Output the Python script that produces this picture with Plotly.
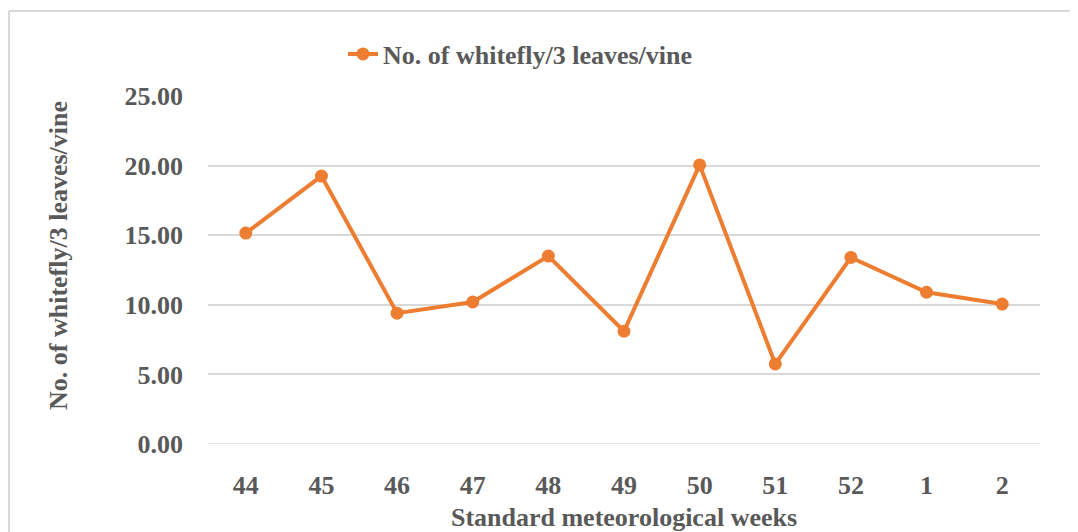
import plotly.graph_objects as go

weeks = ["44", "45", "46", "47", "48", "49", "50", "51", "52", "1", "2"]
whitefly = [15.15, 19.25, 9.40, 10.20, 13.50, 8.10, 20.05, 5.75, 13.40, 10.90, 10.05]
series_name = "No. of whitefly/3 leaves/vine"
x_title = "Standard meteorological weeks"

# page adds an 8px body margin, so the figure is laid out 8px in from the window
W, H = 1070, 524
ml, mt = 200, 88
pw, ph = 832, 348
mr, mb = W - ml - pw, H - mt - ph

font_fam = "Liberation Serif, Times New Roman, serif"
grey = "#595959"
fsize = 26
bold_font = dict(family=font_fam, size=fsize, color=grey, weight="bold")

fig = go.Figure()
fig.add_trace(go.Scatter(
    x=weeks, y=whitefly, mode="lines+markers", name=series_name,
    line=dict(color="#ED7D31", width=4),
    marker=dict(color="#ED7D31", size=13),
))

# outer frame (top and left edges visible)
plot_bottom = mt + ph
fx0 = (1 - ml) / pw
fy1 = (plot_bottom - 3) / ph
fig.add_shape(type="line", xref="paper", yref="paper", x0=fx0, x1=(W + 10 - ml) / pw,
              y0=fy1, y1=fy1, line=dict(color="#d9d9d9", width=2))
fig.add_shape(type="line", xref="paper", yref="paper", x0=fx0, x1=fx0,
              y0=fy1, y1=-(mb + 10) / ph, line=dict(color="#d9d9d9", width=2))

# y-axis title (placed slightly above plot centre, as in the reference)
fig.add_annotation(text=series_name, xref="paper", yref="paper",
                   x=(50 - ml) / pw, y=(plot_bottom - 248) / ph,
                   xanchor="center", yanchor="middle", textangle=-90,
                   showarrow=False, font=bold_font)

fig.update_layout(
    width=W, height=H,
    margin=dict(l=ml, r=mr, t=mt, b=mb, autoexpand=False),
    paper_bgcolor="white", plot_bgcolor="white",
    font=dict(family=font_fam, size=fsize, color=grey),
    showlegend=True,
    legend=dict(x=(335 - ml) / pw, y=(plot_bottom - 46) / ph, xanchor="left", yanchor="middle",
                orientation="h", font=bold_font, bgcolor="rgba(0,0,0,0)"),
    xaxis=dict(
        type="category", range=[-0.5, len(weeks) - 0.5],
        showgrid=False, zeroline=False, showline=False,
        ticks="", tickfont=bold_font, ticklabelstandoff=23,
        title=dict(text=x_title, standoff=9, font=bold_font),
    ),
    yaxis=dict(
        range=[0, 25], dtick=5, tickformat=".2f", showgrid=True, gridcolor="#d9d9d9",
        gridwidth=1.5, zeroline=False, showline=False, ticks="",
        tickfont=bold_font, ticklabelstandoff=24,
    ),
)
fig.add_hline(y=0, line=dict(color="#d9d9d9", width=1.5))

fig.write_html("out.html")
